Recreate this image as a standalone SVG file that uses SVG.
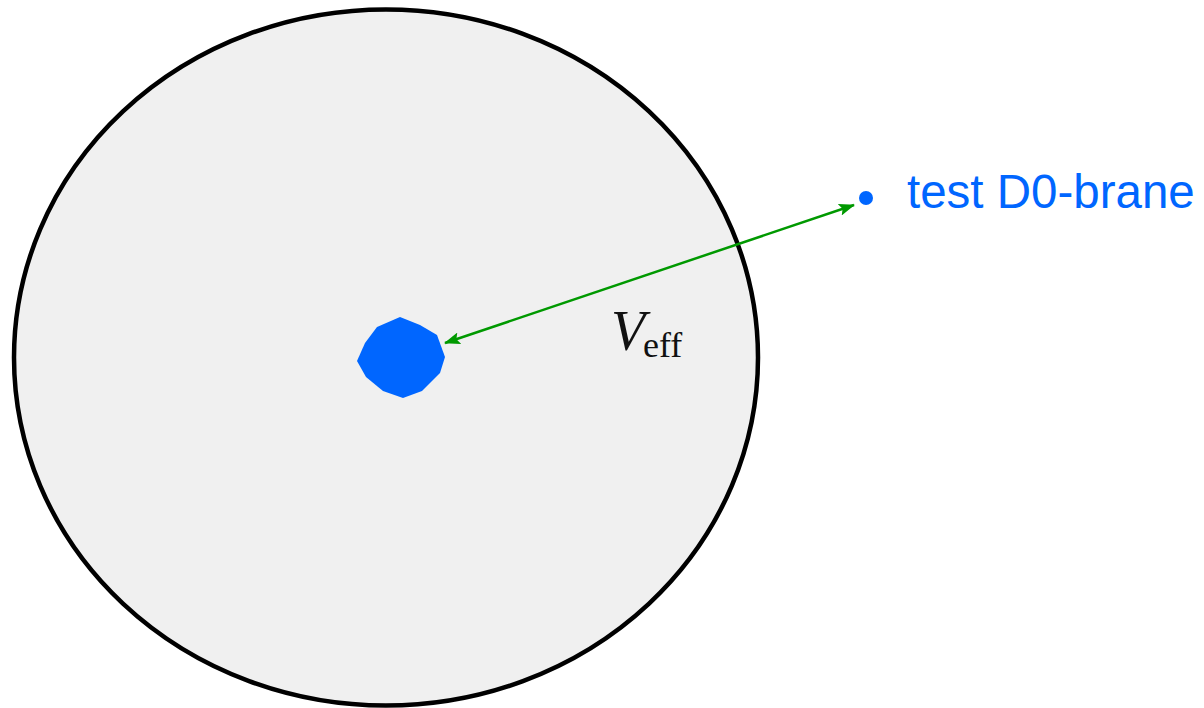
<svg xmlns="http://www.w3.org/2000/svg" width="1204" height="708" viewBox="0 0 1204 708">
<style>
.lbl{font-family:"Liberation Sans",Arial,sans-serif;fill:#0066ff;font-size:47.5px}
.math{font-family:"Liberation Serif","Times New Roman",serif;fill:#111}
</style>
<defs>
<marker id="ah" viewBox="0 0 16 12" refX="15" refY="6" markerWidth="16" markerHeight="12" markerUnits="userSpaceOnUse" orient="auto-start-reverse">
<path d="M0,0 L16,6 L0,12 L3,6 z" fill="#009900"/>
</marker>
</defs>
<g id="region">
<ellipse cx="386" cy="357.5" rx="372" ry="348" fill="#f0f0f0" stroke="#000" stroke-width="4.5"/>
</g>
<g id="source">
<polygon points="400,317 420,325 437,335 445,357 440,373 422,391 403,398 383,391 366,377 357,361 365,343 377,327" fill="#0066ff"/>
</g>
<g id="probe">
<circle cx="866" cy="198" r="7" fill="#0066ff"/>
<text class="lbl" x="907" y="208">test D0-brane</text>
</g>
<g id="connectors">
<line x1="445" y1="343" x2="854" y2="205" stroke="#009900" stroke-width="2.5" marker-start="url(#ah)" marker-end="url(#ah)"/>
</g>
<g id="label">
<text class="math" x="611" y="350" font-size="56" font-style="italic">V</text>
<text class="math" x="643" y="357" font-size="36">eff</text>
</g>
</svg>
